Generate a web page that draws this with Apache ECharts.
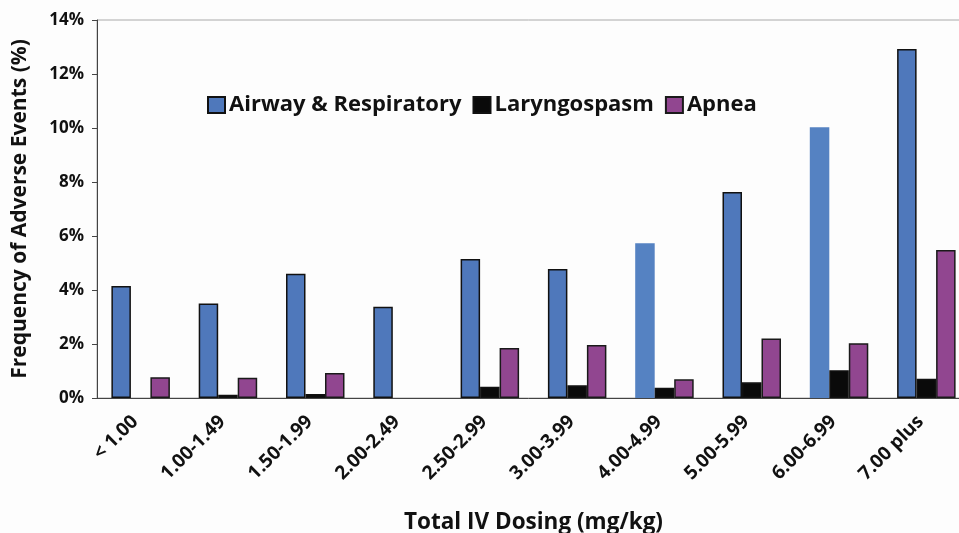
<!DOCTYPE html>
<html>
<head>
<meta charset="utf-8">
<script src="https://cdn.jsdelivr.net/npm/echarts@6/dist/echarts.min.js"></script>
<style>
  html, body { margin: 0; padding: 0; background: #fdfdfd; overflow: hidden; }
  #main { width: 959px; height: 533px; }
</style>
</head>
<body>
<div id="main"></div>
<script>
// dose groups (mg/kg)
var categories = ["< 1.00", "1.00-1.49", "1.50-1.99", "2.00-2.49", "2.50-2.99",
  "3.00-3.99", "4.00-4.99", "5.00-5.99", "6.00-6.99", "7.00 plus"];
// frequency of adverse events, %
var airway = [4.15, 3.5, 4.6, 3.38, 5.15, 4.78, 5.73, 7.63, 10.03, 12.93];
var laryngospasm = [0, 0.12, 0.15, 0, 0.42, 0.47, 0.38, 0.58, 1.03, 0.71];
var apnea = [0.77, 0.75, 0.93, 0, 1.85, 1.96, 0.69, 2.2, 2.03, 5.48];
// bars drawn without outline in the original
var noBorder = [6, 8];

var font = "'Open Sans', sans-serif";
var myChart = echarts.init(document.getElementById("main"));

// zero values get no outline so nothing shows at the baseline
function toData(arr, extra) {
  return arr.map(function(v, i) {
    if (v === 0) return { value: v, itemStyle: { borderWidth: 0, opacity: 0 } };
    if (extra && extra(i)) return { value: v, itemStyle: extra(i) };
    return v;
  });
}

var option = {
  backgroundColor: "#fdfdfd",
  animation: false,
  textStyle: { fontFamily: font },
  legend: {
    left: 202,
    top: 89,
    itemWidth: 17,
    itemHeight: 16,
    itemGap: 11,
    icon: "rect",
    data: ["Airway & Respiratory", "Laryngospasm", "Apnea"],
    textStyle: { fontFamily: font, fontWeight: "bold", fontSize: 22, color: "#111", padding: [0, 0, 0, -1] }
  },
  grid: {
    left: 97,
    right: -11,
    top: 20,
    bottom: 135,
    outerBoundsMode: "none",
    show: true,
    borderColor: "#aaa",
    borderWidth: 1,
    backgroundColor: "transparent"
  },
  xAxis: {
    type: "category",
    data: categories,
    name: "Total IV Dosing (mg/kg)",
    nameLocation: "middle",
    nameGap: 113,
    nameTextStyle: { fontFamily: font, fontWeight: "bold", fontSize: 22.5, color: "#111" },
    axisLine: { lineStyle: { color: "#444", width: 1 } },
    axisTick: { length: 5, lineStyle: { color: "#444" } },
    axisLabel: {
      rotate: 45,
      margin: 15,
      padding: [0, 8, 0, 0],
      interval: 0,
      fontFamily: font,
      fontWeight: "bold",
      fontSize: 19,
      color: "#111"
    }
  },
  yAxis: {
    type: "value",
    min: 0,
    max: 14,
    interval: 2,
    name: "Frequency of Adverse Events (%)",
    nameLocation: "middle",
    nameGap: 66,
    nameTextStyle: { fontFamily: font, fontWeight: "bold", fontSize: 21, color: "#111" },
    axisLine: { show: true, lineStyle: { color: "#444", width: 1 } },
    axisTick: { show: true, length: 5, lineStyle: { color: "#444" } },
    splitLine: { show: false },
    axisLabel: {
      formatter: "{value}%",
      margin: 13,
      fontFamily: font,
      fontWeight: "bold",
      fontSize: 17,
      color: "#111"
    }
  },
  series: [
    {
      name: "Airway & Respiratory",
      type: "bar",
      data: toData(airway, function(i) {
        return noBorder.indexOf(i) >= 0 ? { borderWidth: 0, color: "#5582c2" } : null;
      }),
      barGap: "0%",
      barCategoryGap: "33%",
      itemStyle: { color: "#4f78bb", borderColor: "#111", borderWidth: 1.5 }
    },
    {
      name: "Laryngospasm",
      type: "bar",
      data: toData(laryngospasm),
      itemStyle: { color: "#0a0a0a", borderColor: "#111", borderWidth: 1.5 }
    },
    {
      name: "Apnea",
      type: "bar",
      data: toData(apnea),
      itemStyle: { color: "#914690", borderColor: "#1a1a1a", borderWidth: 1.5 }
    }
  ]
};
myChart.setOption(option);
</script>
</body>
</html>
